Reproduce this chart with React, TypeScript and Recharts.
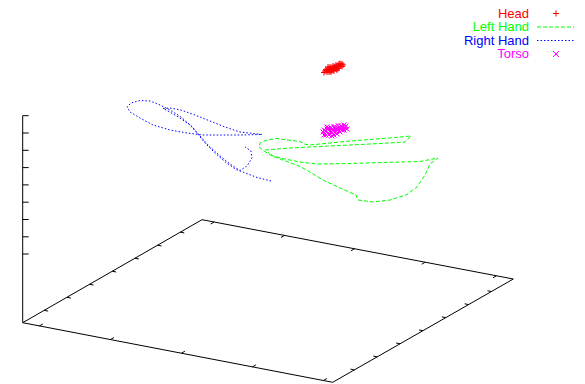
import React from 'react';
import { ScatterChart, Scatter, XAxis, YAxis, ReferenceLine, Customized } from 'recharts';

// Projected plot coordinates (x to the right, y downward).
const baseFrame = [
  { x: 22.7, y: 322.7 },
  { x: 202, y: 219.7 },
  { x: 513.3, y: 279 },
  { x: 332.7, y: 382.3 },
  { x: 22.7, y: 322.7 },
];
const zAxisLine = [
  { x: 22.7, y: 322.7 },
  { x: 22.7, y: 115.7 },
];
const zTickValues = [115.7, 133, 150.3, 167.6, 184.9, 202.2, 219.5, 236.8, 254];
const leftEdgeTicks = [0.12, 0.2465, 0.373, 0.4995, 0.626, 0.7525, 0.879];
const frontEdgeTicks = [0.054, 0.283, 0.512, 0.741, 0.97];
const backEdgeTicks = [0.039, 0.265, 0.49, 0.717, 0.946];

const headPoints = [
  { x: 325, y: 71 }, { x: 326, y: 69.5 }, { x: 327, y: 72 }, { x: 328, y: 70 }, { x: 329, y: 68.5 },
  { x: 330, y: 71 }, { x: 331, y: 69 }, { x: 332, y: 67.5 }, { x: 333, y: 70 }, { x: 334, y: 68 },
  { x: 335, y: 66.5 }, { x: 336, y: 69 }, { x: 337, y: 67 }, { x: 338, y: 65.5 }, { x: 339, y: 68 },
  { x: 340, y: 66 }, { x: 341, y: 64.5 }, { x: 342, y: 66.5 }, { x: 342, y: 64 }, { x: 336, y: 65 },
  { x: 331, y: 72 }, { x: 328, y: 67 }, { x: 334, y: 71 }, { x: 339, y: 64 }, { x: 333, y: 66 },
  { x: 330, y: 67 }, { x: 337, y: 70 }, { x: 340, y: 63.5 }, { x: 327, y: 70.5 }, { x: 335, y: 68 },
  { x: 324, y: 72.5 }, { x: 338, y: 68.5 }, { x: 343, y: 65 }, { x: 332, y: 70.5 }, { x: 329, y: 72 },
];

const leftHandPath = [
  { x: 265, y: 150 }, { x: 290, y: 148 }, { x: 320, y: 146.5 }, { x: 350, y: 145 }, { x: 380, y: 143.5 },
  { x: 405, y: 142 }, { x: 411, y: 136 }, { x: 395, y: 137.5 }, { x: 370, y: 139.5 }, { x: 345, y: 141.5 },
  { x: 325, y: 143.5 }, { x: 310, y: 145 }, { x: 304, y: 144 }, { x: 300, y: 141.5 }, { x: 288, y: 140 },
  { x: 277, y: 138.5 }, { x: 267, y: 140 }, { x: 260, y: 143 }, { x: 259, y: 147 }, { x: 264, y: 151 },
  { x: 272, y: 156 }, { x: 283, y: 160 }, { x: 300, y: 166.5 }, { x: 310, y: 172 }, { x: 323, y: 180 },
  { x: 340, y: 188 }, { x: 356, y: 195 }, { x: 358, y: 200 }, { x: 373, y: 202 }, { x: 390, y: 200 },
  { x: 406, y: 195 }, { x: 417, y: 187 }, { x: 425, y: 175 }, { x: 430, y: 164 }, { x: 438, y: 158 },
  { x: 420, y: 161.5 }, { x: 383, y: 162.5 }, { x: 350, y: 163.5 }, { x: 317, y: 164 }, { x: 300, y: 162 },
  { x: 285, y: 159 }, { x: 273, y: 156 }, { x: 268, y: 152 },
];

const rightHandPath = [
  { x: 271, y: 181 }, { x: 257, y: 177.5 }, { x: 244, y: 172.5 }, { x: 236, y: 169.5 }, { x: 226, y: 162.5 },
  { x: 215, y: 153 }, { x: 205, y: 143 }, { x: 197, y: 133 }, { x: 190, y: 125 }, { x: 180, y: 118 },
  { x: 168, y: 111 }, { x: 163, y: 108.5 }, { x: 170, y: 108 }, { x: 181, y: 110 }, { x: 195, y: 115 },
  { x: 210, y: 121 }, { x: 225, y: 127 }, { x: 240, y: 132 }, { x: 262, y: 134.5 }, { x: 240, y: 135 },
  { x: 220, y: 135 }, { x: 203, y: 135 }, { x: 187, y: 133 }, { x: 170, y: 130 }, { x: 153, y: 125 },
  { x: 140, y: 118 }, { x: 130, y: 112 }, { x: 127, y: 107 }, { x: 131, y: 103 }, { x: 140, y: 100.5 },
  { x: 150, y: 101 }, { x: 160, y: 105 }, { x: 170, y: 110 }, { x: 181, y: 117 }, { x: 192, y: 126.5 },
  { x: 200, y: 136 }, { x: 209, y: 146 }, { x: 219, y: 155 }, { x: 230, y: 164 }, { x: 240, y: 170.5 },
  { x: 247, y: 166 }, { x: 252, y: 158 }, { x: 251, y: 151 }, { x: 245, y: 147 },
];

const torsoPoints = [
  { x: 323, y: 132 }, { x: 324, y: 130 }, { x: 325, y: 134 }, { x: 326, y: 131 }, { x: 327, y: 129 },
  { x: 328, y: 133 }, { x: 329, y: 135 }, { x: 330, y: 131 }, { x: 331, y: 128 }, { x: 332, y: 133 },
  { x: 333, y: 130 }, { x: 334, y: 127 }, { x: 335, y: 132 }, { x: 336, y: 129 }, { x: 337, y: 134 },
  { x: 338, y: 128 }, { x: 326, y: 135 }, { x: 329, y: 128 }, { x: 332, y: 136 }, { x: 335, y: 126.5 },
  { x: 339, y: 131 }, { x: 340, y: 128 }, { x: 341, y: 126 }, { x: 342, y: 130 }, { x: 343, y: 127 },
  { x: 344, y: 125 }, { x: 345, y: 128 }, { x: 346, y: 126 }, { x: 347, y: 129 }, { x: 340, y: 132 },
  { x: 330, y: 134 }, { x: 327, y: 127 }, { x: 324, y: 135 }, { x: 334, y: 135 }, { x: 338, y: 125.5 },
  { x: 344, y: 130 }, { x: 331, y: 132 }, { x: 336, y: 131 },
];

const seriesNames = ['Head', 'Left Hand', 'Right Hand', 'Torso'];
const seriesColors = ['#ff0000', '#00ff00', '#0000ff', '#ff00ff'];

const FONT = '"Liberation Sans", Arial, Helvetica, sans-serif';

const PlusShape = (props: any) => {
  const { cx, cy } = props;
  if (cx == null || cy == null) return <g />;
  return <path d={`M${cx - 3},${cy}h6M${cx},${cy - 3}v6`} stroke={seriesColors[0]} strokeWidth={1} fill="none" />;
};
const CrossShape = (props: any) => {
  const { cx, cy } = props;
  if (cx == null || cy == null) return <g />;
  return <path d={`M${cx - 2.5},${cy - 2.5}l5,5M${cx - 2.5},${cy + 2.5}l5,-5`} stroke={seriesColors[3]} strokeWidth={1} fill="none" />;
};
const NoShape = () => <g />;

const LegendBlock = () => {
  const textX = 529;
  const symX0 = 537;
  const symX1 = 574;
  const symC = 556;
  const rows = seriesNames.map((name, i) => {
    const base = 17.5 + i * 13.5;
    const my = base - 4;
    const color = seriesColors[i];
    let sample: React.ReactNode = null;
    if (i === 0) sample = <path d={`M${symC - 3},${my}h6M${symC},${my - 3}v6`} stroke={color} fill="none" />;
    if (i === 1) sample = <line x1={symX0} x2={symX1} y1={my} y2={my} stroke={color} strokeDasharray="4 2" />;
    if (i === 2) sample = <line x1={symX0} x2={symX1} y1={my} y2={my} stroke={color} strokeDasharray="1.5 2" />;
    if (i === 3) sample = <path d={`M${symC - 3},${my - 3}l6,6M${symC - 3},${my + 3}l6,-6`} stroke={color} fill="none" />;
    return (
      <g key={name}>
        <text x={textX} y={base} textAnchor="end" fontFamily={FONT} fontSize={13} fill={color}>{name}</text>
        {sample}
      </g>
    );
  });
  return <g>{rows}</g>;
};

function lerp(a: { x: number; y: number }, b: { x: number; y: number }, t: number) {
  return { x: a.x + (b.x - a.x) * t, y: a.y + (b.y - a.y) * t };
}
function unit(a: { x: number; y: number }, b: { x: number; y: number }) {
  const dx = b.x - a.x;
  const dy = b.y - a.y;
  const l = Math.hypot(dx, dy);
  return { x: dx / l, y: dy / l };
}

export default function App() {
  const [L, B, R, F] = baseFrame;
  const tickLen = 4;
  const segs: { x: number; y: number }[][] = [];
  zTickValues.forEach((v) => segs.push([{ x: L.x, y: v }, { x: L.x + 6, y: v }]));
  const dLF = unit(L, F);
  const dLB = unit(L, B);
  leftEdgeTicks.forEach((t) => {
    const p = lerp(L, B, t);
    segs.push([p, { x: p.x + dLF.x * tickLen, y: p.y + dLF.y * tickLen }]);
  });
  leftEdgeTicks.forEach((t) => {
    const p = lerp(F, R, t);
    segs.push([p, { x: p.x - dLF.x * tickLen, y: p.y - dLF.y * tickLen }]);
  });
  frontEdgeTicks.forEach((t) => {
    const p = lerp(L, F, t);
    segs.push([p, { x: p.x + dLB.x * tickLen, y: p.y + dLB.y * tickLen }]);
  });
  backEdgeTicks.forEach((t) => {
    const p = lerp(B, R, t);
    segs.push([p, { x: p.x - dLB.x * tickLen, y: p.y - dLB.y * tickLen }]);
  });

  return (
    <div style={{ position: 'absolute', left: 0, top: 0, width: 585, height: 384, background: '#fff' }}>
      <ScatterChart width={585} height={384} margin={{ top: 0, right: 0, bottom: 0, left: 0 }}>
        <XAxis type="number" dataKey="x" domain={[0, 585]} hide allowDataOverflow />
        <YAxis type="number" dataKey="y" domain={[0, 384]} reversed hide allowDataOverflow />
        <Scatter data={baseFrame} shape={NoShape} line={{ stroke: '#000', strokeWidth: 1 }} isAnimationActive={false} />
        <Scatter data={zAxisLine} shape={NoShape} line={{ stroke: '#000', strokeWidth: 1 }} isAnimationActive={false} />
        {segs.map((s, i) => (
          <ReferenceLine key={i} segment={s} stroke="#000" strokeWidth={1} ifOverflow="visible" />
        ))}
        <Scatter name="Right Hand" data={rightHandPath} shape={NoShape}
          line={{ stroke: seriesColors[2], strokeWidth: 1, strokeDasharray: '1.5 2' }} isAnimationActive={false} />
        <Scatter name="Left Hand" data={leftHandPath} shape={NoShape}
          line={{ stroke: seriesColors[1], strokeWidth: 1, strokeDasharray: '4 2' }} isAnimationActive={false} />
        <Scatter name="Torso" data={torsoPoints} shape={CrossShape} isAnimationActive={false} />
        <Scatter name="Head" data={headPoints} shape={PlusShape} isAnimationActive={false} />
        <Customized component={LegendBlock} />
      </ScatterChart>
    </div>
  );
}
